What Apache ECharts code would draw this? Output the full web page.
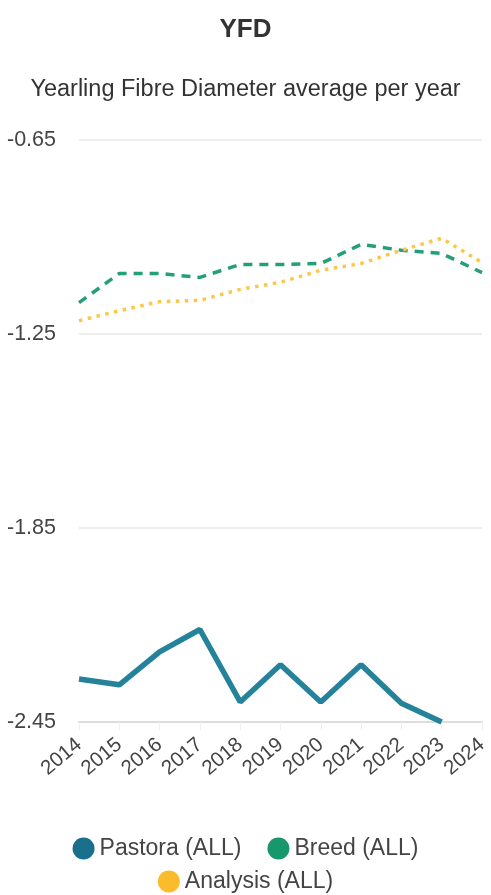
<!DOCTYPE html>
<html><head><meta charset="utf-8">
<script src="https://cdn.jsdelivr.net/npm/echarts@6/dist/echarts.min.js"></script>
<style>html,body{margin:0;padding:0;background:#fff}#c{width:491px;height:895px}</style>
</head><body><div id="c"></div>
<script>
var years = ['2014','2015','2016','2017','2018','2019','2020','2021','2022','2023','2024'];
var pastora = [-2.317, -2.335, -2.233, -2.164, -2.388, -2.273, -2.388, -2.273, -2.392, -2.450, null];
var breed = [-1.153, -1.063, -1.063, -1.075, -1.035, -1.035, -1.032, -0.973, -0.991, -1.001, -1.060];
var analysis = [-1.209, -1.178, -1.150, -1.146, -1.112, -1.090, -1.053, -1.032, -0.991, -0.954, -1.029];
var yTicks = [-2.45, -1.85, -1.25, -0.65];
var legendText = {fontFamily: 'Liberation Sans', fontSize: 23, color: '#444'};

var chart = echarts.init(document.getElementById('c'));
chart.setOption({
  animation: false,
  title: [{
    text: 'YFD', left: 'center', top: 12,
    textStyle: {fontFamily: 'Liberation Sans', fontSize: 26, fontWeight: 'bold', color: '#333'}
  }, {
    text: 'Yearling Fibre Diameter average per year', left: 'center', top: 73,
    textStyle: {fontFamily: 'Liberation Sans', fontSize: 23.5, fontWeight: 'normal', color: '#333'}
  }],
  grid: {left: 79, right: 6, top: 140, bottom: 173},
  legend: [{
    top: 832, left: 'center', icon: 'circle', itemWidth: 22, itemHeight: 22, itemGap: 26, itemStyle: {borderWidth: 0},
    textStyle: legendText, data: ['Pastora (ALL)', 'Breed (ALL)']
  }, {
    top: 865, left: 'center', icon: 'circle', itemWidth: 22, itemHeight: 22, itemStyle: {borderWidth: 0},
    textStyle: legendText, data: ['Analysis (ALL)']
  }],
  xAxis: {
    type: 'category', data: years, boundaryGap: false,
    axisLine: {lineStyle: {color: '#ddd', width: 2}},
    axisTick: {show: true, length: 8, lineStyle: {color: '#eee'}},
    axisLabel: {rotate: 40, fontFamily: 'Liberation Sans', fontSize: 20.5, color: '#444', margin: 20, interval: 0}
  },
  yAxis: {
    type: 'value', min: -2.45, max: -0.65,
    axisLine: {show: false}, axisTick: {show: false, customValues: yTicks},
    splitLine: {lineStyle: {color: '#e8e8e8', width: 1.5}},
    axisLabel: {customValues: yTicks, align: 'left', margin: 72, fontFamily: 'Liberation Sans', fontSize: 21.5, color: '#444',
      formatter: function (v) { return v.toFixed(2); }}
  },
  series: [{
    name: 'Pastora (ALL)', type: 'line', data: pastora, showSymbol: false, symbol: 'circle',
    itemStyle: {color: '#1a6f8c'}, lineStyle: {width: 5.5, color: '#24829b'}
  }, {
    name: 'Breed (ALL)', type: 'line', data: breed, showSymbol: false, symbol: 'circle',
    itemStyle: {color: '#17976c'}, lineStyle: {width: 3.5, type: [9, 7], color: '#23a07a'}
  }, {
    name: 'Analysis (ALL)', type: 'line', data: analysis, showSymbol: false, symbol: 'circle',
    itemStyle: {color: '#fbbb2a'}, lineStyle: {width: 3.5, type: [3.5, 5.5], color: '#fbc748'}
  }]
});
</script></body></html>
